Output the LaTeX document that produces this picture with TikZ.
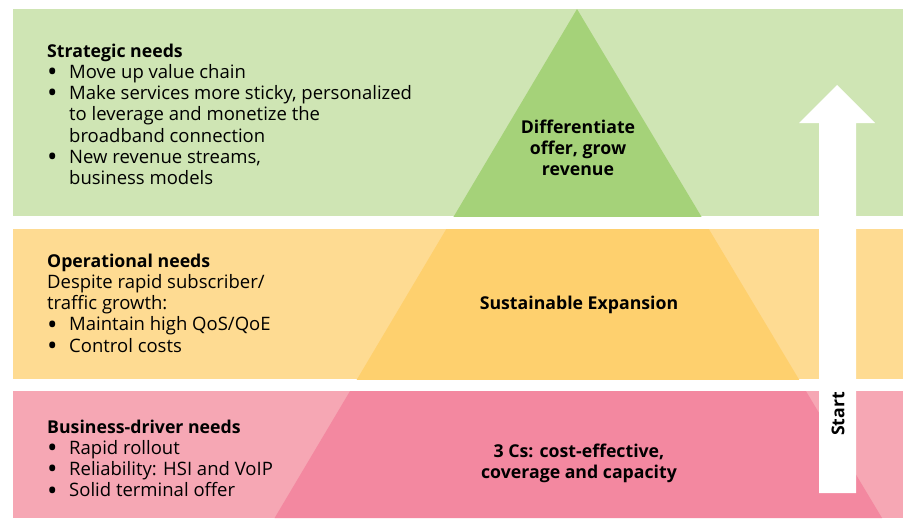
\documentclass[tikz,border=0pt]{standalone}
\usepackage{fontspec}
\setmainfont{Open Sans}
\definecolor{gLight}{RGB}{207,229,180}
\definecolor{gDark}{RGB}{165,210,121}
\definecolor{oLight}{RGB}{254,219,146}
\definecolor{oDark}{RGB}{254,208,110}
\definecolor{pLight}{RGB}{246,167,180}
\definecolor{pDark}{RGB}{243,136,160}
\newcommand{\bulletmark}{\raisebox{-3.2pt}{\scalebox{1.5}{\textbullet}}}
\newcommand{\bit}[1]{\par\hangindent=22pt\hangafter=1\noindent\makebox[22pt][l]{\hspace{0pt}\bulletmark}#1}
\newcommand{\txtfont}{\fontsize{18.5}{21.3}\selectfont}
\newcommand{\bfont}{\fontsize{17.7}{21.3}\selectfont\bfseries}
\newcommand{\hd}[1]{{\bfont #1}}
\tikzset{
  block/.style={anchor=base west, inner sep=0pt, font=\txtfont},
  center/.style={anchor=base, inner sep=0pt, font=\bfont}
}
\begin{document}
\begin{tikzpicture}[x=1pt,y=-1pt]
\useasboundingbox (0,0) rectangle (907,520);
\fill[white] (0,0) rectangle (907,520);
% triangle path
\def\tri{(577,9) -- (274.6,518) -- (882,518) -- cycle}
% green band
\fill[gLight] (13,9) rectangle (903,216);
\begin{scope}\clip (13,9) rectangle (903,216); \fill[gDark] \tri; \end{scope}
% orange band
\fill[oLight] (13,229) rectangle (903,379);
\begin{scope}\clip (13,229) rectangle (903,379); \fill[oDark] \tri; \end{scope}
% pink band
\fill[pLight] (13,391) rectangle (903,518);
\begin{scope}\clip (13,391) rectangle (903,518); \fill[pDark] \tri; \end{scope}
% arrow
\fill[white] (819,493) -- (819,123) -- (799,123) -- (837,85) -- (875,123) -- (856,123) -- (856,493) -- cycle;
\node[rotate=90, inner sep=0pt, font=\bfont] (start) at (838,414) {Start};
% left texts
\node[block] (strat) at (47,57) {\begin{minipage}[t]{400pt}\txtfont
\noindent\hd{Strategic needs}
\bit{Move up value chain}
\bit{Make services more sticky, personalized\\ to leverage and monetize the\\ broadband connection}
\bit{New revenue streams,\\ business models}
\end{minipage}};
\node[block] (oper) at (47,267) {\begin{minipage}[t]{400pt}\txtfont
\noindent\hd{Operational needs}\\
Despite rapid subscriber/\\
traffic growth:
\bit{Maintain high QoS/QoE}
\bit{Control costs}
\end{minipage}};
\node[block] (busi) at (47,433) {\begin{minipage}[t]{400pt}\txtfont
\noindent\hd{Business-driver needs}
\bit{Rapid rollout}
\bit{Reliability: HSI and VoIP}
\bit{Solid terminal offer}
\end{minipage}};
% central texts
\node[center] (diff) at (578,133) {\begin{minipage}[t]{260pt}\centering\bfont Differentiate\\ offer, grow\\ revenue\end{minipage}};
\node[center] (sust) at (579,309) {Sustainable Expansion};
\node[center] (three) at (579,457) {\begin{minipage}[t]{260pt}\centering\bfont 3 Cs: cost-effective,\\ coverage and capacity\end{minipage}};
\end{tikzpicture}
\end{document}
